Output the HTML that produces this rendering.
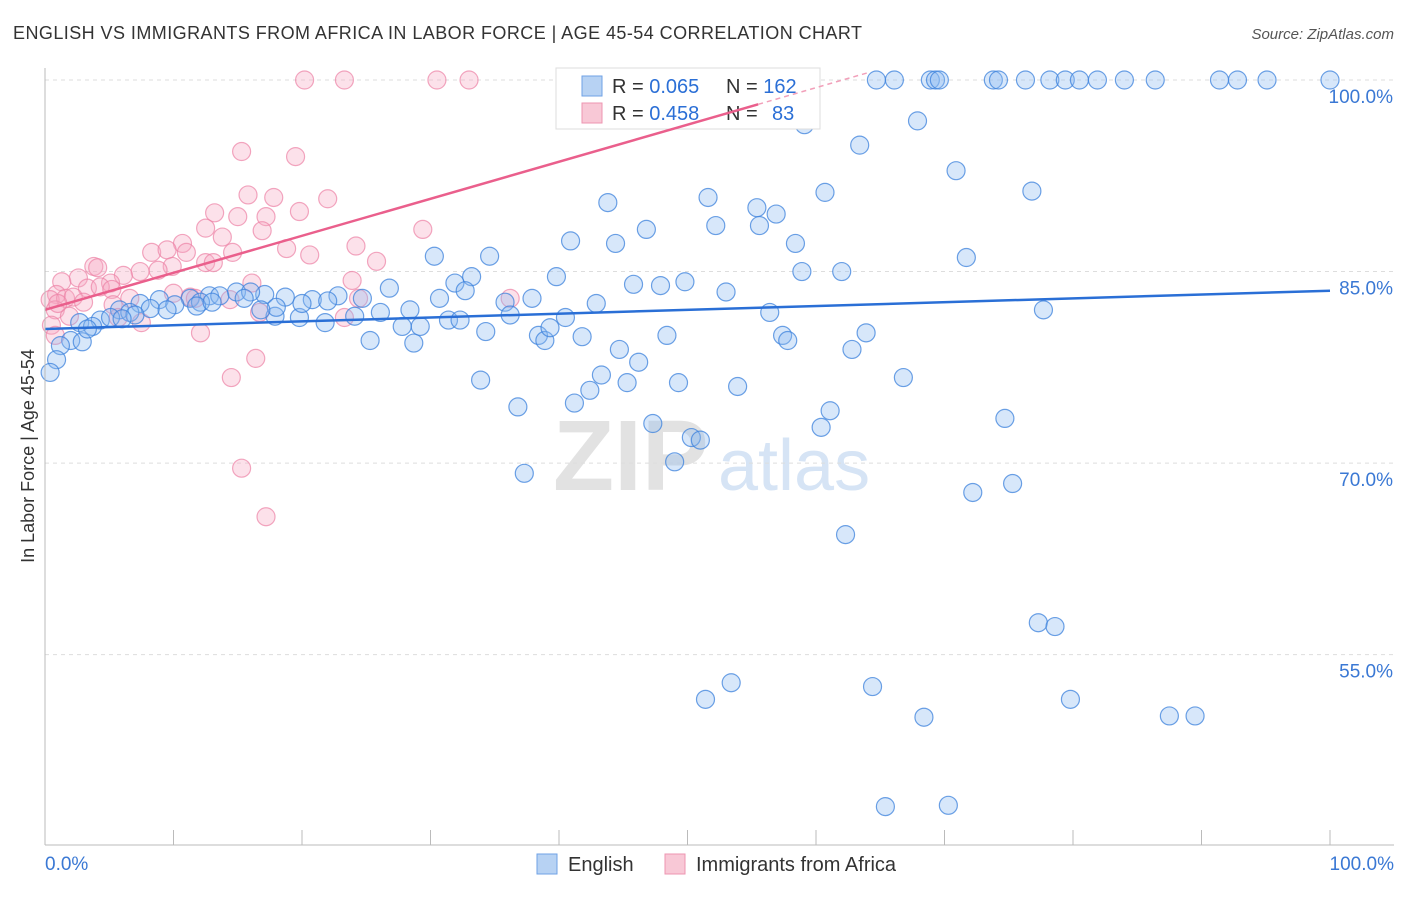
<!DOCTYPE html>
<html><head><meta charset="utf-8"><style>
body{margin:0;background:#fff;font-family:"Liberation Sans",sans-serif;}
svg text{font-family:"Liberation Sans",sans-serif;}
</style></head><body>
<svg id="chart" width="1406" height="892" xmlns="http://www.w3.org/2000/svg">
<text x="13" y="39" font-size="18" fill="#333" textLength="849" lengthAdjust="spacing">ENGLISH VS IMMIGRANTS FROM AFRICA IN LABOR FORCE | AGE 45-54 CORRELATION CHART</text>
<text x="1394" y="39" font-size="15" fill="#555" text-anchor="end" font-style="italic">Source: ZipAtlas.com</text>
<text transform="translate(34,456) rotate(-90)" font-size="18" fill="#333" text-anchor="middle">In Labor Force | Age 45-54</text>
<text x="553" y="490" font-size="100" fill="#e2e2e2" font-family="Liberation Serif" font-weight="bold">ZIP</text>
<text x="718" y="490" font-size="72" fill="#d6e4f5">atlas</text>
<g id="grid"></g><g id="pts"></g>
<g>
<rect x="556" y="68" width="264" height="61" fill="#fff" stroke="#ddd"/>
<rect x="582" y="76" width="20" height="20" fill="#b7d2f3" stroke="#6fa2e6"/>
<text x="612" y="93" font-size="20" fill="#333">R = <tspan fill="#2b6fd6">0.065</tspan></text>
<text x="726" y="93" font-size="20" fill="#333">N = <tspan fill="#2b6fd6">162</tspan></text>
<rect x="582" y="103" width="20" height="20" fill="#f8c8d6" stroke="#ee95b0"/>
<text x="612" y="120" font-size="20" fill="#333">R = <tspan fill="#2b6fd6">0.458</tspan></text>
<text x="726" y="120" font-size="20" fill="#333">N = </text>
<text x="772" y="120" font-size="20" fill="#2b6fd6">83</text>
</g>
<g id="lines"></g><g id="axes"></g>
<g>
<rect x="537" y="854" width="20" height="20" fill="#b7d2f3" stroke="#6fa2e6"/>
<text x="568" y="871" font-size="20" fill="#333">English</text>
<rect x="665" y="854" width="20" height="20" fill="#f8c8d6" stroke="#ee95b0"/>
<text x="696" y="871" font-size="20" fill="#333">Immigrants from Africa</text>
</g>
</svg>
<script>
const yTicks=[100,85,70,55];
const yTickLabels=["100.0%","85.0%","70.0%","55.0%"];
const xTickLabels=["0.0%","100.0%"];
const englishX=[64.7,66.1,68.9,69.3,69.6,73.8,74.2,76.3,78.2,79.4,80.5,81.9,84.0,86.4,91.4,92.8,95.1,100,59.1,67.9,63.4,70.9,76.8,60.7,51.6,43.8,55.4,56.9,52.2,55.6,46.8,40.9,44.4,58.4,30.3,34.6,71.7,39.8,33.2,58.9,62.0,49.8,45.8,47.9,31.9,32.7,26.8,53.0,30.7,35.8,37.9,42.9,77.7,56.4,24.7,22.8,20.8,18.7,17.1,14.9,12.8,11.3,8.9,7.4,5.8,4.3,2.7,2.0,1.2,0.9,0.4,2.9,3.7,5.1,6.6,8.2,10.1,12.1,13.6,16.0,17.9,19.8,21.8,24.1,26.1,28.4,29.2,31.4,32.3,34.3,36.2,38.4,38.9,39.3,40.5,41.8,25.3,27.8,28.7,44.7,48.4,57.4,57.8,63.9,62.8,43.3,45.3,46.2,42.4,41.2,33.9,36.8,49.3,53.9,66.8,61.1,60.4,47.3,50.3,51.0,49.0,74.7,37.3,72.2,75.3,62.3,77.3,78.6,53.4,51.4,64.4,79.8,68.4,87.5,89.5,65.4,70.3,9.5,11.8,13.0,15.5,7.0,3.3,6.0,18.0,20.0,16.8,22.0];
const englishY=[100,100,100,100,100,100,100,100,100,100,100,100,100,100,100,100,100,100,96.5,96.8,94.9,92.9,91.3,91.2,90.8,90.4,90.0,89.5,88.6,88.6,88.3,87.4,87.2,87.2,86.2,86.2,86.1,84.6,84.6,85.0,85.0,84.2,84.0,83.9,84.1,83.5,83.7,83.4,82.9,82.6,82.9,82.5,82.0,81.8,82.9,83.1,82.8,83.0,83.2,83.4,83.1,82.9,82.8,82.5,82.0,81.2,81.0,79.6,79.2,78.1,77.1,79.5,80.7,81.4,81.8,82.1,82.4,82.6,83.1,83.4,81.5,81.4,81.0,81.5,81.8,82.0,80.7,81.2,81.2,80.3,81.6,80.0,79.6,80.6,81.4,79.9,79.6,80.7,79.4,78.9,80.0,80.0,79.6,80.2,78.9,76.9,76.3,77.9,75.7,74.7,76.5,74.4,76.3,76.0,76.7,74.1,72.8,73.1,72.0,71.8,70.1,73.5,69.2,67.7,68.4,64.4,57.5,57.2,52.8,51.5,52.5,51.5,50.1,50.2,50.2,43.1,43.2,82.0,82.3,82.6,82.9,81.6,80.5,81.3,82.2,82.5,82.0,82.7];
const africaX=[20.2,23.3,30.5,33.0,54.6,15.3,19.5,15.8,17.8,22.0,13.2,19.8,15.0,17.2,12.5,16.9,29.4,13.8,10.7,24.2,18.8,20.6,8.3,9.5,11.0,14.6,25.8,12.5,13.1,9.9,3.8,4.1,8.8,7.4,6.1,2.6,1.3,5.1,23.9,16.1,3.3,4.3,5.2,0.9,0.4,1.6,6.6,11.3,11.7,5.3,24.4,36.2,14.4,0.8,1.9,16.7,5.7,23.3,7.5,0.5,0.8,12.1,16.4,14.5,15.3,17.2,2.2,3.0,1.0,10.0];
const africaY=[100,100,100,100,100,94.4,94.0,91.0,90.8,90.7,89.6,89.7,89.3,89.3,88.4,88.2,88.3,87.7,87.2,87.0,86.8,86.3,86.5,86.7,86.5,86.5,85.8,85.7,85.7,85.4,85.4,85.3,85.1,85.0,84.7,84.5,84.2,84.1,84.3,84.1,83.7,83.8,83.6,83.2,82.8,82.9,82.9,83.0,82.9,82.4,82.9,82.9,82.8,82.0,81.5,81.8,81.4,81.4,81.0,80.8,80.0,80.2,78.2,76.7,69.6,65.8,83.0,82.6,82.5,83.3];
const englishTrend=[80.5,83.5];
const africaTrend=[82.0,111.0];
const X=v=>45+v*12.85, Y=v=>80+(100-v)*12.77;
const NS="http://www.w3.org/2000/svg";
function mk(parent,tag,attrs){const e=document.createElementNS(NS,tag);for(const k in attrs)e.setAttribute(k,attrs[k]);document.getElementById(parent).appendChild(e);return e;}
yTicks.forEach((t,i)=>{
  const g=mk('grid','line',{x1:45,x2:1394,y1:Y(t),y2:Y(t),stroke:'#ddd','stroke-dasharray':'4,4'});
  
  
  const l=mk('axes','text',{x:1393,y:Y(t)+23,'font-size':19,fill:'#3a78d4','text-anchor':'end'});
  l.textContent=yTickLabels[i];
  
  
});
const ax=mk('axes','line',{x1:45,x2:45,y1:68,y2:845,stroke:'#bbb'});


const bx=mk('axes','line',{x1:45,x2:1394,y1:845,y2:845,stroke:'#bbb'});


for(let i=0;i<=10;i++){const t=mk('axes','line',{x1:X(i*10),x2:X(i*10),y1:830,y2:845,stroke:'#bbb'});

}
[[0,'start',45],[100,'end',1394]].forEach((p,i)=>{const t=mk('axes','text',{x:p[2],y:870,'font-size':19,fill:'#3a78d4','text-anchor':p[1]});t.textContent=xTickLabels[i];

});
africaX.forEach((x,i)=>{const c=mk('pts','circle',{cx:X(x),cy:Y(africaY[i]),r:9,fill:'rgba(246,170,195,0.35)',stroke:'rgba(236,130,165,0.7)','stroke-width':1.2});

});
englishX.forEach((x,i)=>{const c=mk('pts','circle',{cx:X(x),cy:Y(englishY[i]),r:9,fill:'rgba(140,185,240,0.35)',stroke:'rgba(60,130,220,0.75)','stroke-width':1.2});

});
const bl=mk('lines','line',{x1:X(0),y1:Y(englishTrend[0]),x2:X(100),y2:Y(englishTrend[1]),stroke:'#2a6fd6','stroke-width':2.5});


const pv=x=>africaTrend[0]+(africaTrend[1]-africaTrend[0])*x/100;
const pl=mk('lines','line',{x1:X(0),y1:Y(pv(0)),x2:X(55.5),y2:Y(pv(55.5)),stroke:'#ea5f8c','stroke-width':2.5});


const pd=mk('lines','line',{x1:X(55.5),y1:Y(pv(55.5)),x2:X(64),y2:Y(pv(64)),stroke:'#f2a0ba','stroke-width':1.5,'stroke-dasharray':'5,4'});


</script>
</body></html>
